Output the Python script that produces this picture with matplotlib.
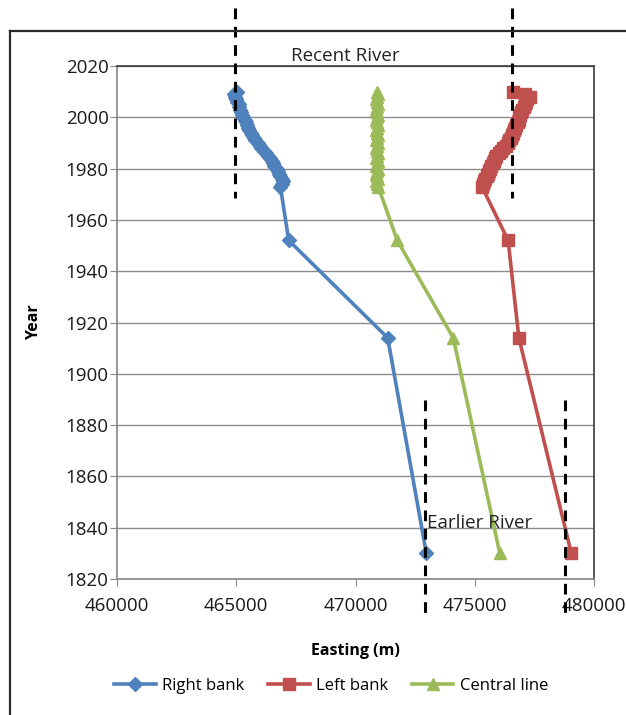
import numpy as np
import matplotlib
matplotlib.use("Agg")
from matplotlib import pyplot as plt
from matplotlib.lines import Line2D

plt.rcParams["font.family"] = ["Open Sans", "DejaVu Sans"]

# years of bank observations (historic maps, then yearly imagery)
years = [1830, 1914, 1952] + list(range(1973, 2011))

right_bank = [472970, 471350, 467200,
              466850, 466900, 466950, 466900, 466850, 466800, 466750, 466700,
              466600, 466550, 466500, 466400, 466350, 466250, 466150, 466050,
              466000, 465900, 465800, 465750, 465650, 465600, 465550, 465500,
              465450, 465400, 465350, 465300, 465250, 465200, 465150, 465100,
              465100, 465050, 465000, 464950, 464900, 465050]

left_bank = [479050, 476850, 476400,
             475300, 475350, 475400, 475450, 475500, 475550, 475600, 475650,
             475700, 475750, 475800, 475850, 475900, 476000, 476100, 476200,
             476300, 476400, 476450, 476500, 476550, 476600, 476650, 476700,
             476750, 476800, 476850, 476850, 476900, 476950, 477000, 477050,
             477100, 477150, 477200, 477300, 477100, 476600]

central_line = [476050, 474100, 471750,
                470950, 470900, 470850, 470950, 470900, 470850, 470900, 470950,
                470850, 470900, 470950, 470850, 470900, 470950, 470900, 470850,
                470900, 470950, 470850, 470900, 470950, 470900, 470850, 470900,
                470950, 470900, 470850, 470900, 470950, 470900, 470850, 470900,
                470950, 470900, 470850, 470900, 470950, 470900]

# dashed reference lines: (easting, year_from, year_to)
recent_lines = [(464950, 2042.6, 1968.5), (476550, 2042.6, 1968.5)]
earlier_lines = [(472900, 1889.8, 1806), (478800, 1889.8, 1806)]

fig = plt.figure(figsize=(6.26, 7.15), dpi=100)
ax = fig.add_axes([117 / 626, 1 - 579 / 715, (594 - 117) / 626, (579 - 66) / 715])

ax.plot(right_bank, years, color="#4F81BD", lw=2.6, marker="D", ms=7.5,
        label="Right bank")
ax.plot(left_bank, years, color="#C0504D", lw=2.6, marker="s", ms=8.5,
        label="Left bank")
ax.plot(central_line, years, color="#9BBB59", lw=2.6, marker="^", ms=9,
        label="Central line")

for x, y0, y1 in recent_lines + earlier_lines:
    ax.plot([x, x], [y0, y1], color="black", lw=2.2, ls=(0, (3.5, 2.5)),
            clip_on=False, zorder=5)

ax.text(467300, 2023.8, "Recent River", fontsize=13.5, va="center", ha="left",
        color="#222222")
ax.text(473000, 1841.8, "Earlier River", fontsize=13.5, va="center", ha="left",
        color="#222222")

ax.set_xlim(460000, 480000)
ax.set_ylim(1820, 2020)
ax.set_xticks(np.arange(460000, 480001, 5000))
ax.set_yticks(np.arange(1820, 2021, 20))
ax.yaxis.grid(True, color="#8c8c8c", lw=1)
ax.set_axisbelow(True)
ax.tick_params(axis="both", direction="out", length=5, color="#868686",
               labelsize=13.5, labelcolor="#1a1a1a")
ax.tick_params(axis="x", pad=8)
ax.tick_params(axis="y", pad=1)

ax.spines["left"].set_color("#868686")
ax.spines["bottom"].set_color("#868686")
ax.spines["top"].set_color("#3a3a3a")
ax.spines["right"].set_color("#3a3a3a")
for s in ax.spines.values():
    s.set_linewidth(1.2)

ax.set_xlabel("Easting (m)", fontsize=11.5, fontweight="bold", labelpad=20)
ax.set_ylabel("Year", fontsize=11.5, fontweight="bold", labelpad=17)

ax.legend(loc="center", bbox_to_anchor=(0.449, (686 - 579) / -513), ncol=3,
          frameon=False, fontsize=12, handlelength=2.5, columnspacing=1.4,
          handletextpad=0.4)

# outer chart frame (cropped on right and bottom)
fig.add_artist(Line2D([10 / 626, 10 / 626], [0, 1 - 31 / 715],
                      transform=fig.transFigure, color="#2a2a2a", lw=1.6))
fig.add_artist(Line2D([10 / 626, 1], [1 - 31 / 715, 1 - 31 / 715],
                      transform=fig.transFigure, color="#2a2a2a", lw=1.6))

fig.savefig("out.png", dpi=100)
